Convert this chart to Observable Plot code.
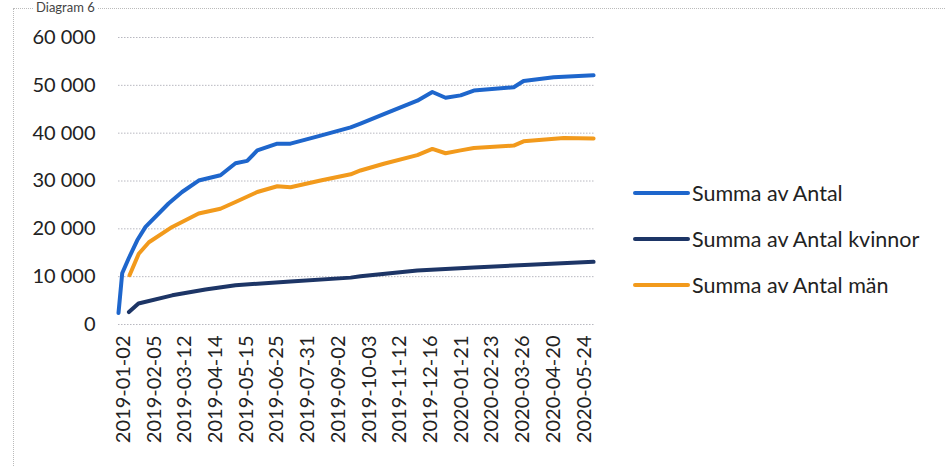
<!DOCTYPE html>
<html>
<head>
<meta charset="utf-8">
<script src="https://cdn.jsdelivr.net/npm/d3@7"></script>
<script src="https://cdn.jsdelivr.net/npm/@observablehq/plot@0.6"></script>
<style>
  html, body { margin: 0; padding: 0; background: #fff; }
  #wrap { position: relative; width: 946px; height: 466px; overflow: hidden; font-family: Lato, "Open Sans", sans-serif; color: #222; }
  #title { position: absolute; left: 34px; top: 1px; font-size: 13px; line-height: 1; color: #444; background: #fff; padding: 0 2px; z-index: 2; }
  #frame { position: absolute; left: 13px; top: 8px; width: 960px; height: 480px; border: 1px dotted #bbb; }
  #chart { position: absolute; left: 0; top: 0; }
  #legend { position: absolute; left: 633px; top: 170px; font-size: 21.5px; }
  .row { display: flex; align-items: center; height: 46px; }
  .sw { width: 57px; height: 4px; border-radius: 2px; margin-right: 2px; }
</style>
</head>
<body>
<div id="wrap">
  <div id="frame"></div>
  <div id="title">Diagram 6</div>
  <div id="chart"></div>
  <div id="legend"></div>
</div>
<script>
// Tick labels of the category axis (every labelled category)
const tickLabels = ["2019-01-02","2019-02-05","2019-03-12","2019-04-14","2019-05-15","2019-06-25","2019-07-31","2019-09-02","2019-10-03","2019-11-12","2019-12-16","2020-01-21","2020-02-23","2020-03-26","2020-04-20","2020-05-24"];

const seriesNames = ["Summa av Antal", "Summa av Antal kvinnor", "Summa av Antal män"];
const seriesColors = ["#1e66cc", "#1d3566", "#f29a1c"];

// Positions along the category axis, in units of labelled categories
const totalPos = [0, 0.12, 0.33, 0.61, 0.88, 1.63, 2.07, 2.61, 3.32, 3.81, 4.19, 4.52, 5.17, 5.60, 6.58, 7.56, 7.88, 8.64, 9.73, 10.22, 10.65, 11.14, 11.57, 12.87, 13.19, 14.17, 15.47];
const totalVal = [2400, 10700, 13800, 17600, 20400, 25300, 27700, 30100, 31200, 33700, 34200, 36400, 37800, 37800, 39500, 41200, 42000, 44000, 46800, 48600, 47400, 47900, 48900, 49600, 50900, 51700, 52100];

const womenPos = [0.34, 0.65, 1.75, 2.83, 3.81, 5.60, 7.56, 7.88, 9.73, 11.57, 13.4, 15.47];
const womenVal = [2600, 4400, 6100, 7300, 8200, 9000, 9800, 10100, 11300, 11900, 12500, 13100];

const menPos = [0.36, 0.66, 0.99, 1.75, 2.61, 3.32, 3.81, 4.52, 5.17, 5.60, 6.58, 7.56, 7.88, 8.64, 9.73, 10.22, 10.65, 11.14, 11.57, 12.87, 13.19, 14.50, 15.47];
const menVal = [10300, 14800, 17200, 20400, 23200, 24200, 25600, 27700, 28900, 28700, 30100, 31400, 32200, 33600, 35400, 36700, 35800, 36400, 36900, 37400, 38300, 39000, 38900];

const yTicks = [0, 10000, 20000, 30000, 40000, 50000, 60000];

const rows = [];
totalPos.forEach((p, i) => rows.push({s: seriesNames[0], x: p, y: totalVal[i]}));
womenPos.forEach((p, i) => rows.push({s: seriesNames[1], x: p, y: womenVal[i]}));
menPos.forEach((p, i) => rows.push({s: seriesNames[2], x: p, y: menVal[i]}));

const fmt = d => d3.format(",")(d).replace(/,/g, " ");

const chart = Plot.plot({
  width: 946,
  height: 466,
  marginLeft: 118,
  marginRight: 352,
  marginTop: 37,
  marginBottom: 142,
  style: {fontFamily: "Lato, 'Open Sans', sans-serif", fontSize: "20px", color: "#222", background: "transparent"},
  x: {domain: [0, 15.5], axis: null},
  y: {domain: [0, 60000], axis: null},
  color: {domain: seriesNames, range: seriesColors},
  marks: [
    Plot.ruleY(yTicks, {stroke: "#b8b8c0", strokeWidth: 1, strokeDasharray: "1.5,1.5"}),
    Plot.axisY(yTicks, {label: null, tickSize: 0, tickPadding: 23, tickFormat: fmt, fontSize: 20, fill: "#222"}),
    Plot.axisX(d3.range(tickLabels.length), {label: null, tickSize: 0, tickPadding: 11, tickRotate: -90, tickFormat: i => tickLabels[i], fontSize: 20, fill: "#222", dx: 5}),
    Plot.line(rows, {x: "x", y: "y", z: "s", stroke: "s", strokeWidth: 4, strokeLinejoin: "round", strokeLinecap: "round"})
  ]
});
document.getElementById("chart").appendChild(chart);

const legend = document.getElementById("legend");
seriesNames.forEach((n, i) => {
  const r = document.createElement("div");
  r.className = "row";
  const sw = document.createElement("div");
  sw.className = "sw";
  sw.style.background = seriesColors[i];
  const t = document.createElement("span");
  t.textContent = n;
  r.appendChild(sw);
  r.appendChild(t);
  legend.appendChild(r);
});
</script>
</body>
</html>
